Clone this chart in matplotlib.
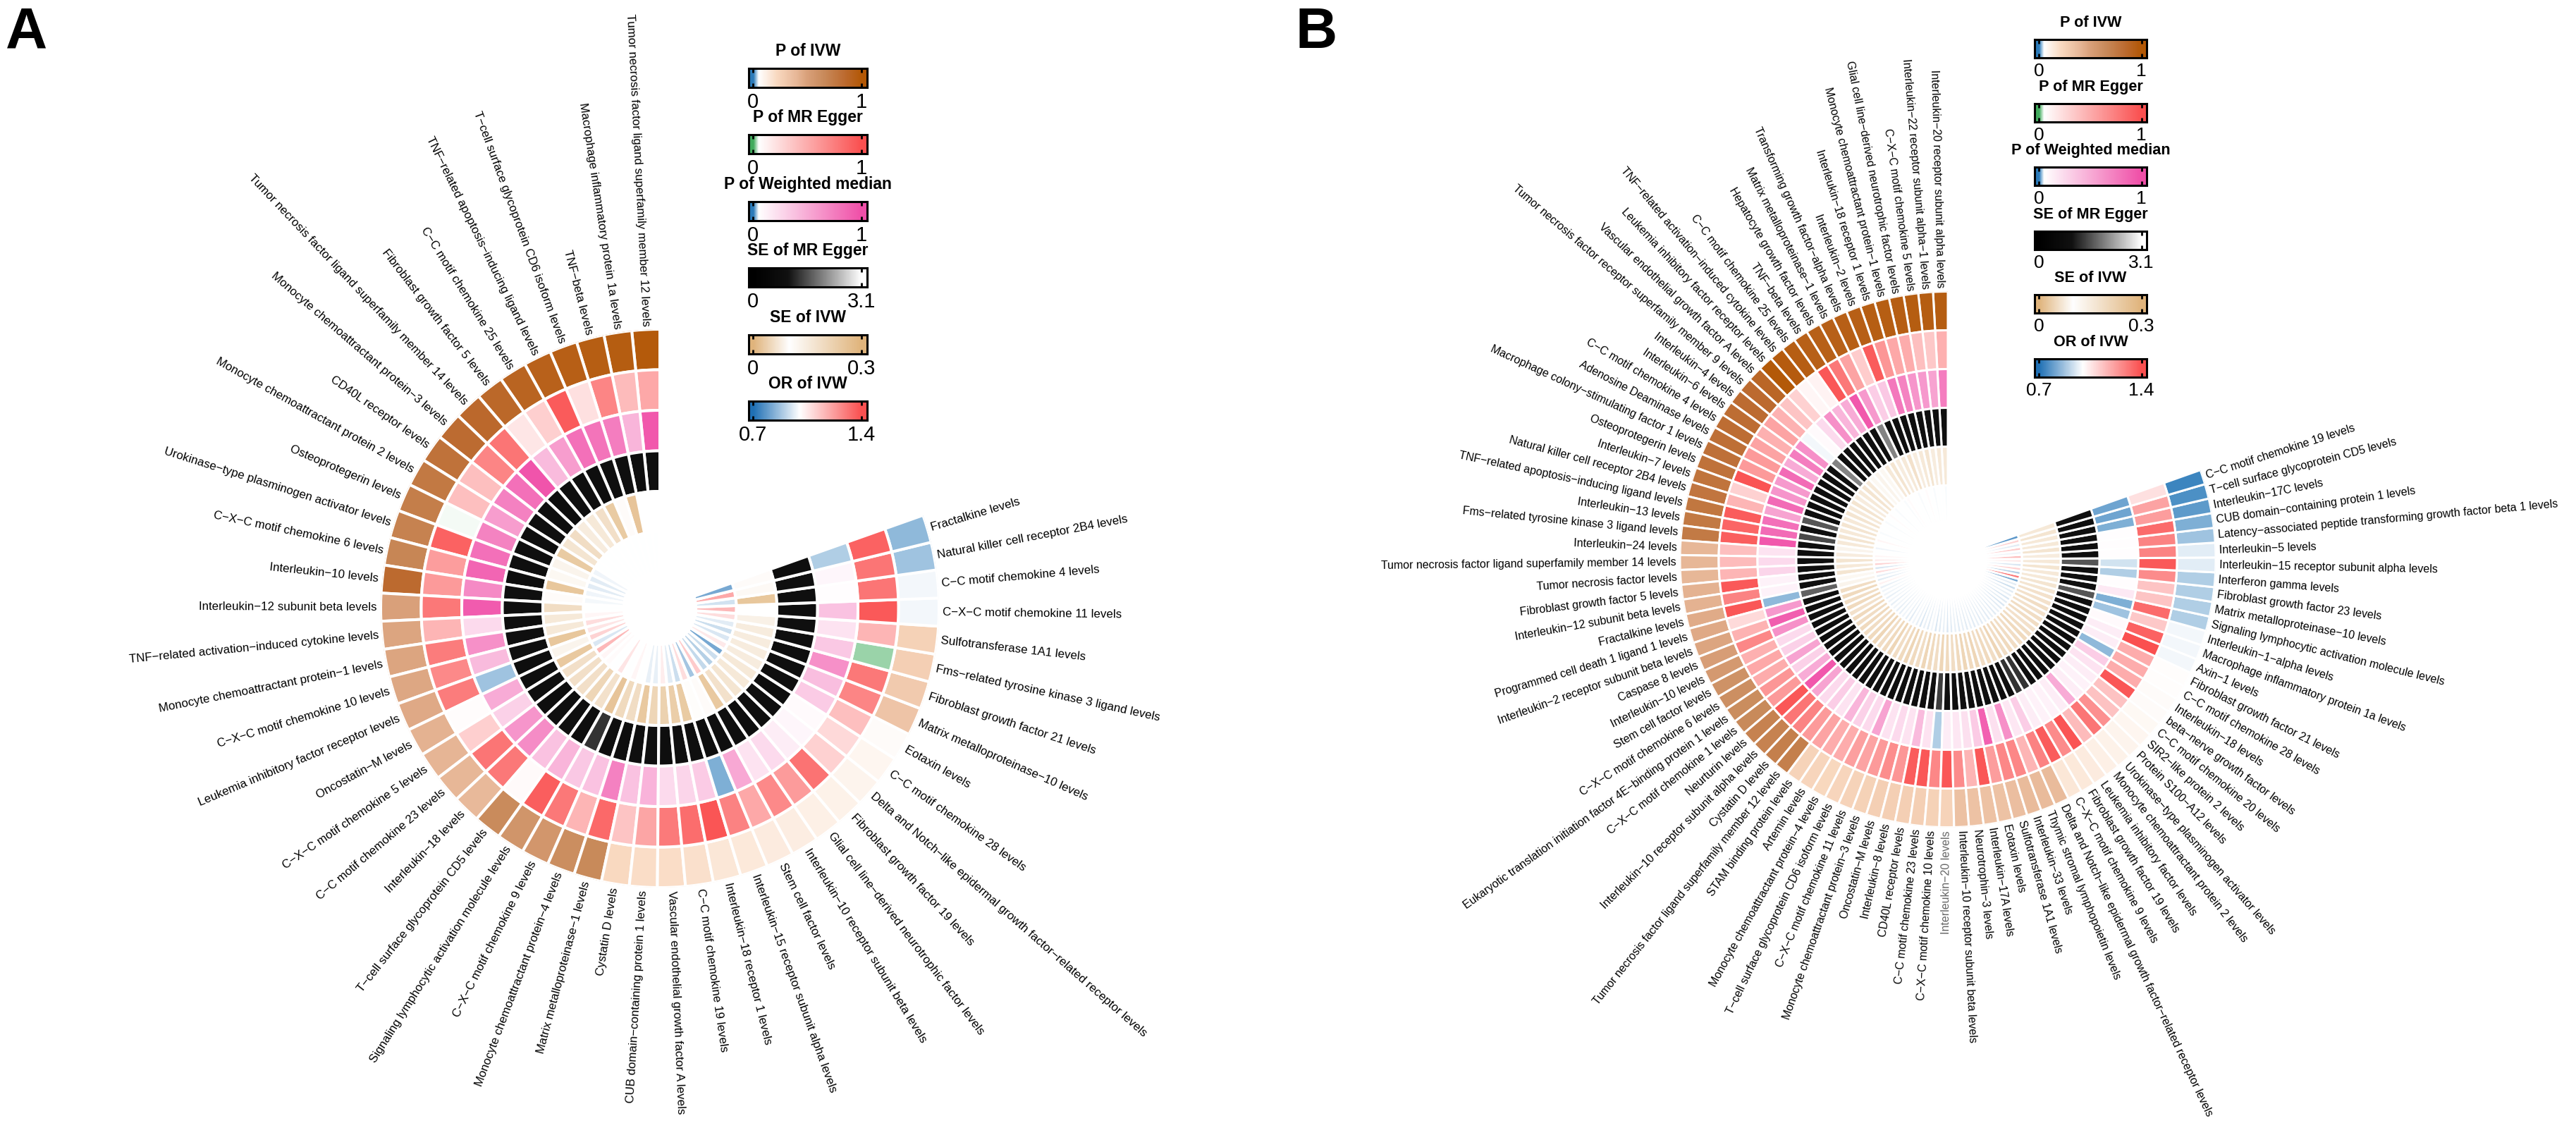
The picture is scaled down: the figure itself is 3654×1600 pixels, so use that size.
import numpy as np
import matplotlib
matplotlib.use('Agg')
import matplotlib.pyplot as plt
from matplotlib.colors import LinearSegmentedColormap, Normalize

plt.rcParams['font.family'] = ['Liberation Sans', 'DejaVu Sans']

W, H = 3655, 1600

# ---- panel A data, sectors run counter-clockwise from 12 o'clock
labels_a = [
    'Tumor necrosis factor ligand superfamily member 12 levels', 'Macrophage inflammatory protein 1a levels',
    'TNF-beta levels', 'T-cell surface glycoprotein CD6 isoform levels', 'TNF-related apoptosis-inducing ligand levels',
    'C-C motif chemokine 25 levels', 'Fibroblast growth factor 5 levels',
    'Tumor necrosis factor ligand superfamily member 14 levels', 'Monocyte chemoattractant protein-3 levels',
    'CD40L receptor levels', 'Monocyte chemoattractant protein 2 levels', 'Osteoprotegerin levels',
    'Urokinase-type plasminogen activator levels', 'C-X-C motif chemokine 6 levels', 'Interleukin-10 levels',
    'Interleukin-12 subunit beta levels', 'TNF-related activation-induced cytokine levels',
    'Monocyte chemoattractant protein-1 levels', 'C-X-C motif chemokine 10 levels',
    'Leukemia inhibitory factor receptor levels', 'Oncostatin-M levels', 'C-X-C motif chemokine 5 levels',
    'C-C motif chemokine 23 levels', 'Interleukin-18 levels', 'T-cell surface glycoprotein CD5 levels',
    'Signaling lymphocytic activation molecule levels', 'C-X-C motif chemokine 9 levels',
    'Monocyte chemoattractant protein-4 levels', 'Matrix metalloproteinase-1 levels', 'Cystatin D levels',
    'CUB domain-containing protein 1 levels', 'Vascular endothelial growth factor A levels',
    'C-C motif chemokine 19 levels', 'Interleukin-18 receptor 1 levels', 'Interleukin-15 receptor subunit alpha levels',
    'Stem cell factor levels', 'Interleukin-10 receptor subunit beta levels',
    'Glial cell line-derived neurotrophic factor levels', 'Fibroblast growth factor 19 levels',
    'Delta and Notch-like epidermal growth factor-related receptor levels', 'C-C motif chemokine 28 levels',
    'Eotaxin levels', 'Matrix metalloproteinase-10 levels', 'Fibroblast growth factor 21 levels',
    'Fms-related tyrosine kinase 3 ligand levels', 'Sulfotransferase 1A1 levels', 'C-X-C motif chemokine 11 levels',
    'C-C motif chemokine 4 levels', 'Natural killer cell receptor 2B4 levels', 'Fractalkine levels',
]
p_ivw_a = [.98, .96, .95, .94, .92, .9, .87, .86, .84, .8,
           .76, .73, .7, .68, .85, .5, .48, .48, .47, .46,
           .42, .41, .4, .39, .65, .58, .57, .63, .66, .22,
           .2, .2, .19, .16, .15, .14, .13, .12, .11, .1,
           .09, .07, .33, .3, .27, .26, .05, .05, .03, .025]
p_egger_a = [.52, .42, .71, .22, .94, .31, .19, .8, .71, .4,
             .4, .05, .9, .58, .6, .78, .45, .76, .69, .76,
             .07, .31, .8, .78, .08, .92, .78, .45, .86, .37,
             .54, .77, .84, .97, .73, .52, .69, .59, .81, .3,
             .26, .4, .71, .78, .025, .45, .95, .8, .8, .9]
p_wm_a = [.95, .45, .75, .8, .82, .58, .42, .97, .82, .73,
          .58, .72, .82, .88, .68, .93, .25, .65, .42, .03,
          .5, .3, .62, .67, .38, .45, .35, .38, .73, .38,
          .46, .25, .28, .33, .02, .52, .2, .25, .15, .1,
          .08, .33, .4, .65, .35, .2, .38, .06, .1, .035]
se_egger_a = [.9, .85, .9, .9, .85, .9, .9, .85, .9, .9,
              .85, .9, .9, .85, .9, .9, .85, .9, .9, .85,
              .9, .9, .85, .9, .9, .85, 1.3, .9, .85, .9,
              .9, .85, .9, .9, .85, .9, .9, .85, .9, .9,
              .85, .9, .9, .85, .9, .9, .85, .9, .9, .85]
se_ivw_a = [.1, .1, .256, .11, .24, .184, .16, .15, .19, .17,
            .24, .13, .12, .25, .11, .19, .16, .16, .25, .13,
            .244, .184, .184, .184, .21, .18, .256, .2, .19, .244,
            .21, .22, .23, .24, .106, .11, .244, .18, .17, .16,
            .16, .15, .15, .15, .15, .136, .1, .25, .115, .11]
or_ivw_a = [1.0, 1.0, 1.0, 1.0, 1.0, 1.0, 1.0, 1.0, 1.0, 1.0,
            .98, .96, .96, .98, .985, 1.0, 1.02, 1.08, 1.06, 1.1,
            .95, 1.16, 1.02, 1.01, 1.0, 1.06, 1.0, 1.02, 1.0, .97,
            .97, 1.04, .96, .93, 1.08, .88, 1.12, .92, .9, .93,
            .82, 1.05, .95, .93, .96, 1.08, 1.16, .94, 1.2, .82]

# ---- panel B data
labels_b = [
    'Interleukin-20 receptor subunit alpha levels', 'Interleukin-22 receptor subunit alpha-1 levels',
    'C-X-C motif chemokine 5 levels', 'Glial cell line-derived neurotrophic factor levels',
    'Monocyte chemoattractant protein-1 levels', 'Interleukin-18 receptor 1 levels', 'Interleukin-2 levels',
    'Transforming growth factor-alpha levels', 'Matrix metalloproteinase-1 levels', 'Hepatocyte growth factor levels',
    'TNF-beta levels', 'C-C motif chemokine 25 levels', 'TNF-related activation-induced cytokine levels',
    'Leukemia inhibitory factor receptor levels', 'Vascular endothelial growth factor A levels',
    'Tumor necrosis factor receptor superfamily member 9 levels', 'Interleukin-4 levels', 'Interleukin-6 levels',
    'C-C motif chemokine 4 levels', 'Adenosine Deaminase levels', 'Macrophage colony-stimulating factor 1 levels',
    'Osteoprotegerin levels', 'Interleukin-7 levels', 'Natural killer cell receptor 2B4 levels',
    'TNF-related apoptosis-inducing ligand levels', 'Interleukin-13 levels', 'Fms-related tyrosine kinase 3 ligand levels',
    'Interleukin-24 levels', 'Tumor necrosis factor ligand superfamily member 14 levels', 'Tumor necrosis factor levels',
    'Fibroblast growth factor 5 levels', 'Interleukin-12 subunit beta levels', 'Fractalkine levels',
    'Programmed cell death 1 ligand 1 levels', 'Interleukin-2 receptor subunit beta levels', 'Caspase 8 levels',
    'Interleukin-10 levels', 'Stem cell factor levels', 'C-X-C motif chemokine 6 levels',
    'Eukaryotic translation initiation factor 4E-binding protein 1 levels', 'C-X-C motif chemokine 1 levels',
    'Neurturin levels', 'Interleukin-10 receptor subunit alpha levels', 'Cystatin D levels',
    'Tumor necrosis factor ligand superfamily member 12 levels', 'STAM binding protein levels', 'Artemin levels',
    'Monocyte chemoattractant protein-4 levels', 'T-cell surface glycoprotein CD6 isoform levels',
    'C-X-C motif chemokine 11 levels', 'Monocyte chemoattractant protein-3 levels', 'Oncostatin-M levels',
    'Interleukin-8 levels', 'CD40L receptor levels', 'C-C motif chemokine 23 levels', 'C-X-C motif chemokine 10 levels',
    'Interleukin-20 levels', 'Interleukin-10 receptor subunit beta levels', 'Neurotrophin-3 levels',
    'Interleukin-17A levels', 'Eotaxin levels', 'Sulfotransferase 1A1 levels', 'Interleukin-33 levels',
    'Thymic stromal lymphopoietin levels', 'Delta and Notch-like epidermal growth factor-related receptor levels',
    'C-X-C motif chemokine 9 levels', 'Fibroblast growth factor 19 levels', 'Leukemia inhibitory factor levels',
    'Monocyte chemoattractant protein 2 levels', 'Urokinase-type plasminogen activator levels',
    'Protein S100-A12 levels', 'SIR2-like protein 2 levels', 'C-C motif chemokine 20 levels',
    'beta-nerve growth factor levels', 'Interleukin-18 levels', 'C-C motif chemokine 28 levels',
    'Fibroblast growth factor 21 levels', 'Axin-1 levels', 'Macrophage inflammatory protein 1a levels',
    'Interleukin-1-alpha levels', 'Signaling lymphocytic activation molecule levels',
    'Matrix metalloproteinase-10 levels', 'Fibroblast growth factor 23 levels', 'Interferon gamma levels',
    'Interleukin-15 receptor subunit alpha levels', 'Interleukin-5 levels',
    'Latency-associated peptide transforming growth factor beta 1 levels', 'CUB domain-containing protein 1 levels',
    'Interleukin-17C levels', 'T-cell surface glycoprotein CD5 levels', 'C-C motif chemokine 19 levels',
]
p_ivw_b = [.96, .96, .96, .95, .95, .95, .94, .94, .93, .93,
           .93, .95, .97, .99, .88, .85, .84, .83, .83, .82,
           .81, .8, .79, .78, .77, .76, .75, .4, .4, .4,
           .42, .42, .45, .46, .48, .52, .55, .6, .62, .64,
           .66, .7, .7, .72, .72, .25, .24, .23, .24, .25,
           .26, .27, .27, .27, .27, .26, .25, .35, .34, .34,
           .34, .36, .38, .38, .38, .16, .15, .14, .12, .11,
           .1, .09, .08, .07, .07, .06, .06, .05, .05, .05,
           .035, .033, .032, .035, .045, .046, .03, .02, .012, .01, .005]
p_egger_b = [.48, .35, .4, .5, .52, .62, .93, .33, .55, .78,
             .96, .12, .1, .3, .37, .47, .55, .48, .55, .6,
             .6, .98, .3, .45, .93, .88, .92, .4, .42, .45,
             .95, .72, .96, .25, .47, .7, .48, .52, .5, .62,
             .6, .96, .8, .72, .6, .55, .5, .5, .57, .55,
             .6, .67, .62, .93, .96, .7, .96, .68, .45, .96,
             .58, .7, .7, .45, .73, .93, .68, .98, .42, .8,
             .65, .38, .38, .96, .5, .5, .5, 1.0, .9, .35,
             .85, .37, .37, .68, .95, .72, .72, .85, .58, .55, .22]
p_wm_b = [.75, .55, .6, .62, .72, .78, .35, .32, .6, .95,
          .5, .45, .65, .25, .08, .05, .65, .75, .5, .85,
          .6, .62, .85, .55, .82, .85, .95, .2, .25, .28,
          .12, .12, .025, .6, .92, .65, .25, .3, .55, .3,
          .5, .95, .55, .25, .32, .2, .45, .3, .25, .55,
          .2, .25, .2, .42, .2, .035, .15, .18, .22, .33,
          .9, .22, .65, .18, .32, .15, .12, .12, .15, .5,
          .15, .12, .15, .2, .32, .025, .15, .15, .08, .03,
          .02, .17, .06, .035, .04, .06, .06, .06, .02, .018, .018]
se_egger_b = [.9, .85, .9, .9, .85, .9, .9, .85, 2.0, .9,
              .9, .85, .9, .9, .85, 2.0, .9, .9, .85, .9,
              .9, .85, .9, 1.6, .9, 1.5, .9, .85, .9, .9,
              .85, .9, 1.7, .9, .85, .9, .9, .85, .9, .9,
              .85, .9, .9, .85, .9, .9, .85, .9, .9, .85,
              .9, .9, .85, .9, .9, 1.4, .9, .85, .9, .9,
              .85, .9, .9, .85, .9, 1.3, 1.3, .9, .85, .9,
              .9, .85, .9, .9, .85, .9, .9, .85, .9, .9,
              1.6, .9, .85, .9, 1.6, .9, .85, .9, .9, .85, .9]
se_ivw_b = [.16, .16, .15, .17, .16, .15, .18, .16, .15, .17,
            .16, .12, .13, .12, .16, .17, .16, .15, .17, .16,
            .17, .16, .17, .16, .17, .16, .13, .15, .17, .16,
            .17, .12, .13, .19, .2, .19, .2, .18, .2, .19,
            .2, .19, .2, .21, .19, .2, .21, .19, .2, .21,
            .2, .19, .21, .2, .19, .21, .2, .19, .2, .21,
            .2, .21, .19, .2, .19, .21, .19, .2, .19, .19,
            .2, .19, .18, .19, .19, .18, .19, .18, .18, .17,
            .17, .16, .16, .17, .16, .15, .17, .16, .16, .17, .16]
or_ivw_b = [.99, 1.0, 1.0, .99, 1.0, 1.01, 1.0, .99, 1.0, 1.0,
            1.01, .99, 1.0, 1.0, .99, 1.0, 1.01, 1.0, .99, 1.0,
            1.0, .99, 1.0, 1.02, 1.0, .98, 1.0, 1.02, 1.04, 1.1,
            .95, 1.08, .97, .96, 1.03, .97, .98, .98, .97, .98,
            .97, .98, .97, .97, .98, .97, .96, .98, .97, .95,
            .97, .96, .98, .95, .96, .97, .95, .96, .97, .96,
            .97, .96, .97, .96, .97, .96, .97, .96, .97, .96,
            .97, .96, .95, .96, .95, .97, .96, .93, .96, .82,
            1.3, .9, 1.1, .95, 1.05, 1.15, .98, 1.12, .96, 1.1, .78]

# name, vmin, vmax, colour nodes (value, colour)
# the P of IVW ramp has extra nodes, the reference ramp is more saturated in the pale part
scales = [
    ('P of IVW', 0, 1, [(0, '#2b7bba'), (.05, '#ffffff'), (.22, '#f9d9c0'), (.4, '#e7b797'),
                        (.5, '#d9a07a'), (.65, '#c98b5c'), (.85, '#bc6a2f'), (1, '#b35806')]),
    ('P of MR Egger', 0, 1, [(0, '#41ab5d'), (.05, '#ffffff'), (1, '#fa5050')]),
    ('P of Weighted median', 0, 1, [(0, '#2b7bba'), (.05, '#ffffff'), (1, '#f04fa8')]),
    ('SE of MR Egger', 0, 3.1, [(0, '#000000'), (1, '#111111'), (3.1, '#ffffff')]),
    ('SE of IVW', 0, .3, [(0, '#e0b47c'), (.1, '#ffffff'), (.3, '#e0b47c')]),
    ('OR of IVW', .7, 1.4, [(.7, '#1f70b5'), (1, '#ffffff'), (1.4, '#fa5050')]),
]
tick_text = {'P of IVW': ('0', '1'), 'P of MR Egger': ('0', '1'), 'P of Weighted median': ('0', '1'),
             'SE of MR Egger': ('0', '3.1'), 'SE of IVW': ('0', '0.3'), 'OR of IVW': ('0.7', '1.4')}


def make_cmap(vmin, vmax, nodes):
    pts = [((v - vmin) / (vmax - vmin), c) for v, c in nodes]
    return LinearSegmentedColormap.from_list('c', pts), Normalize(vmin, vmax)


def draw_panel(cx, cy, R, pitch, labels, rings, fs, edge_lw, span=289.5):
    ax = fig.add_axes([(cx - R) / W, 1 - (cy + R) / H, 2 * R / W, 2 * R / H], projection='polar')
    ax.set_theta_zero_location('N')
    ax.set_theta_direction(-1)
    n = len(labels)
    step = span / n
    theta = np.array([360 - (i + .5) * step for i in range(n)])
    for k, (vals, sc) in enumerate(zip(rings, scales)):
        cmap, norm = make_cmap(sc[1], sc[2], sc[3])
        ax.bar(np.deg2rad(theta), pitch, width=np.deg2rad(step), bottom=R - pitch * (k + 1),
               color=cmap(norm(np.array(vals))), edgecolor='white', linewidth=edge_lw)
    for lab, t in zip(labels, theta):
        txt = lab.replace('-', '\u2212')
        col = '#666666' if lab == 'Interleukin-20 levels' else 'black'
        if t <= 180:
            ax.text(np.deg2rad(t), R + 5, txt, rotation=90 - t, ha='left', va='center',
                    rotation_mode='anchor', fontsize=fs, color=col)
        else:
            ax.text(np.deg2rad(t), R + 5, txt, rotation=270 - t, ha='right', va='center',
                    rotation_mode='anchor', fontsize=fs, color=col)
    ax.set_ylim(0, R)
    ax.axis('off')


def draw_legends(x0, x1, y0, h, gap, title_fs, tick_fs):
    for k, (name, vmin, vmax, nodes) in enumerate(scales):
        cmap, norm = make_cmap(vmin, vmax, nodes)
        top = y0 + gap * k
        ax = fig.add_axes([x0 / W, 1 - (top + h) / H, (x1 - x0) / W, h / H])
        rng = vmax - vmin
        lo, hi = vmin - .04 * rng, vmax + .05 * rng
        grad = np.linspace(lo, hi, 300).reshape(1, -1)
        ax.imshow(grad, cmap=cmap, norm=norm, extent=[lo, hi, 0, 1], aspect='auto')
        ax.set_xlim(lo, hi)
        ax.set_yticks([])
        ax.set_xticks([vmin, vmax], tick_text[name])
        ax.tick_params(axis='x', direction='in', top=True, length=4, width=2, labelsize=tick_fs, pad=5)
        for s in ax.spines.values():
            s.set_linewidth(2.2)
        ax.set_title(name, fontsize=title_fs, fontweight='bold', pad=13)


fig = plt.figure(figsize=(W / 100, H / 100), dpi=100, facecolor='white')

draw_panel(936, 863, 396, 57.5, labels_a,
           [p_ivw_a, p_egger_a, p_wm_a, se_egger_a, se_ivw_a, or_ivw_a], 12.2, 2.9)
draw_panel(2763, 793.5, 380, 55, labels_b,
           [p_ivw_b, p_egger_b, p_wm_b, se_egger_b, se_ivw_b, or_ivw_b], 11.5, 2.2)

draw_legends(1062, 1230, 97, 27, 94.4, 16.5, 21)
draw_legends(2886, 3045, 56, 26, 90.6, 15.6, 19)

fig.text(8 / W, 1 - 68 / H, 'A', fontsize=59, fontweight='bold', ha='left', va='baseline')
fig.text(1838 / W, 1 - 68 / H, 'B', fontsize=59, fontweight='bold', ha='left', va='baseline')

fig.savefig('out.png', dpi=100, facecolor='white')
